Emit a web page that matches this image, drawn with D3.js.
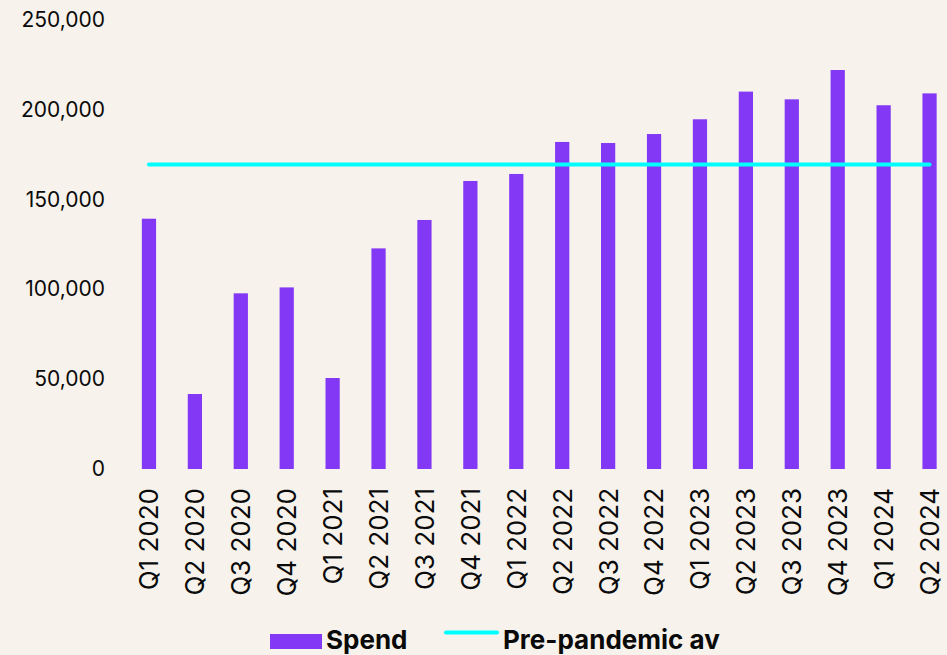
<!DOCTYPE html>
<html>
<head>
<meta charset="utf-8">
<script src="https://cdn.jsdelivr.net/npm/d3@7"></script>
<style>
  html, body { margin: 0; padding: 0; background: #f7f3ec; }
  svg { display: block; font-family: Inter, "Liberation Sans", Arial, sans-serif; }
</style>
</head>
<body>
<svg id="chart" width="947" height="655"></svg>
<script>
// Quarterly spend, 2020–2024
const quarters = ["Q1 2020","Q2 2020","Q3 2020","Q4 2020","Q1 2021","Q2 2021","Q3 2021","Q4 2021",
  "Q1 2022","Q2 2022","Q3 2022","Q4 2022","Q1 2023","Q2 2023","Q3 2023","Q4 2023","Q1 2024","Q2 2024"];
const spend = [139200, 41700, 97700, 101000, 50600, 122700, 138500, 160200,
  164100, 181900, 181300, 186300, 194500, 209900, 205600, 221900, 202300, 208900];
const prePandemicAvg = 169300;
const yTicks = [0, 50000, 100000, 150000, 200000, 250000];
const legendLabels = ["Spend", "Pre-pandemic av"];

const colors = { bar: "#8338f5", line: "#00ffff", text: "#0a0a0a" };

const svg = d3.select("#chart");

const x = d3.scaleBand()
  .domain(quarters)
  .range([126, 952.5])
  .paddingInner(0.69)
  .paddingOuter(0.345);

const y = d3.scaleLinear()
  .domain([0, 250000])
  .range([469, 19.5]);

const fmt = d3.format(",");

// Y axis labels only (no axis line or ticks)
const yAxis = svg.append("g")
  .attr("transform", "translate(105,0)")
  .call(d3.axisLeft(y).tickValues(yTicks).tickFormat(fmt).tickSize(0).tickPadding(0));
yAxis.select(".domain").remove();
yAxis.selectAll("text")
  .attr("fill", colors.text)
  .style("font-size", "21px")
  .style("font-family", "Inter, 'Liberation Sans', Arial, sans-serif");

// Bars
svg.append("g")
  .selectAll("rect")
  .data(spend)
  .join("rect")
  .attr("x", (d, i) => x(quarters[i]))
  .attr("width", x.bandwidth())
  .attr("y", d => y(d))
  .attr("height", d => y(0) - y(d))
  .attr("fill", colors.bar);

// Pre-pandemic average line across bar centres
const xFirst = x(quarters[0]) + x.bandwidth() / 2;
const xLast = x(quarters[quarters.length - 1]) + x.bandwidth() / 2;
svg.append("line")
  .attr("x1", xFirst)
  .attr("x2", xLast)
  .attr("y1", y(prePandemicAvg))
  .attr("y2", y(prePandemicAvg))
  .attr("stroke", colors.line)
  .attr("stroke-width", 4)
  .attr("stroke-linecap", "round");

// X axis labels, rotated
const xAxis = svg.append("g")
  .attr("transform", `translate(0,${y(0) + 19})`)
  .call(d3.axisBottom(x).tickSize(0).tickPadding(0));
xAxis.select(".domain").remove();
xAxis.selectAll("text")
  .attr("fill", colors.text)
  .style("font-size", "26px")
  .style("font-family", "Inter, 'Liberation Sans', Arial, sans-serif")
  .attr("text-anchor", "end")
  .attr("transform", "rotate(-90)")
  .attr("x", 0)
  .attr("y", 0)
  .attr("dx", 0)
  .attr("dy", "0.36em");

// Legend
const legend = svg.append("g");
legend.append("rect")
  .attr("x", 270).attr("y", 634)
  .attr("width", 52).attr("height", 15)
  .attr("fill", colors.bar);
legend.append("text")
  .attr("x", 326).attr("y", 649)
  .attr("fill", colors.text)
  .style("font-size", "26px")
  .style("font-weight", 700)
  .text(legendLabels[0]);
legend.append("line")
  .attr("x1", 446).attr("x2", 497)
  .attr("y1", 632.5).attr("y2", 632.5)
  .attr("stroke", colors.line)
  .attr("stroke-width", 4)
  .attr("stroke-linecap", "round");
legend.append("text")
  .attr("x", 503).attr("y", 649)
  .attr("fill", colors.text)
  .style("font-size", "26px")
  .style("font-weight", 700)
  .text(legendLabels[1]);
</script>
</body>
</html>
